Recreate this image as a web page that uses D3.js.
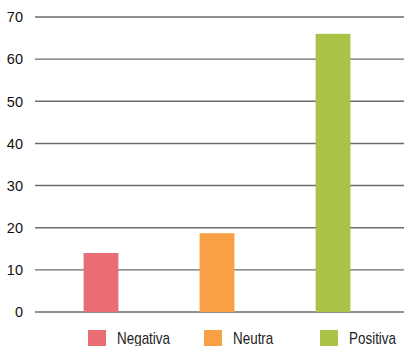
<!DOCTYPE html>
<html>
<head>
  <meta charset='utf-8'>
  <script src='https://cdn.jsdelivr.net/npm/d3@7/dist/d3.min.js'></script>
  <style>
    body { margin: 0; background: #fff; }
    #chart { width: 406px; height: 346px; }
    .ytick text { font-family: 'Liberation Sans', Arial, sans-serif; font-size: 14.5px; fill: #111; }
    .legend text { font-family: 'Liberation Sans', Arial, sans-serif; font-size: 16px; fill: #222; }
  </style>
</head>
<body>
  <div id='chart'></div>
  <script>
    // data
    var categories = ['Negativa', 'Neutra', 'Positiva'];
    var values = [14, 18.7, 66];
    var colors = ['#eb6d74', '#f9a044', '#a9c347'];
    var yTicks = [0, 10, 20, 30, 40, 50, 60, 70];

    var width = 406, height = 346;

    var svg = d3.select('#chart')
      .append('svg')
      .attr('width', width)
      .attr('height', height);

    var xScale = d3.scaleBand()
      .domain(categories)
      .range([43, 391])
      .paddingInner(0.7)
      .paddingOuter(0.35);

    var yScale = d3.scaleLinear()
      .domain([0, 70])
      .range([312, 17]);

    // grid lines + labels
    var ticks = svg.append('g')
      .selectAll('.ytick')
      .data(yTicks)
      .enter()
      .append('g')
      .attr('class', 'ytick')
      .attr('transform', function(d) { return 'translate(0,' + yScale(d) + ')'; });

    ticks.append('line')
      .attr('x1', 35)
      .attr('x2', 404)
      .attr('stroke', '#6b6b6b')
      .attr('stroke-width', 1.4);

    ticks.append('text')
      .attr('x', 23)
      .attr('dy', '0.36em')
      .attr('text-anchor', 'end')
      .text(function(d) { return d; });

    // bars
    svg.selectAll('.bar')
      .data(values)
      .enter()
      .append('rect')
      .attr('class', 'bar')
      .attr('x', function(d, i) { return xScale(categories[i]); })
      .attr('y', function(d) { return yScale(d); })
      .attr('width', xScale.bandwidth())
      .attr('height', function(d) { return yScale(0) - yScale(d); })
      .attr('fill', function(d, i) { return colors[i]; });

    // legend
    var legend = svg.append('g')
      .attr('class', 'legend')
      .selectAll('g')
      .data(categories)
      .enter()
      .append('g')
      .attr('transform', function(d) {
        return 'translate(' + (xScale(d) + xScale.bandwidth() / 2 - 13) + ',330)';
      });

    legend.append('rect')
      .attr('width', 18)
      .attr('height', 18)
      .attr('fill', function(d, i) { return colors[i]; });

    // condensed look: squeeze the text horizontally
    legend.append('text')
      .attr('transform', 'translate(29,14) scale(0.84,1)')
      .text(function(d) { return d; });
  </script>
</body>
</html>
